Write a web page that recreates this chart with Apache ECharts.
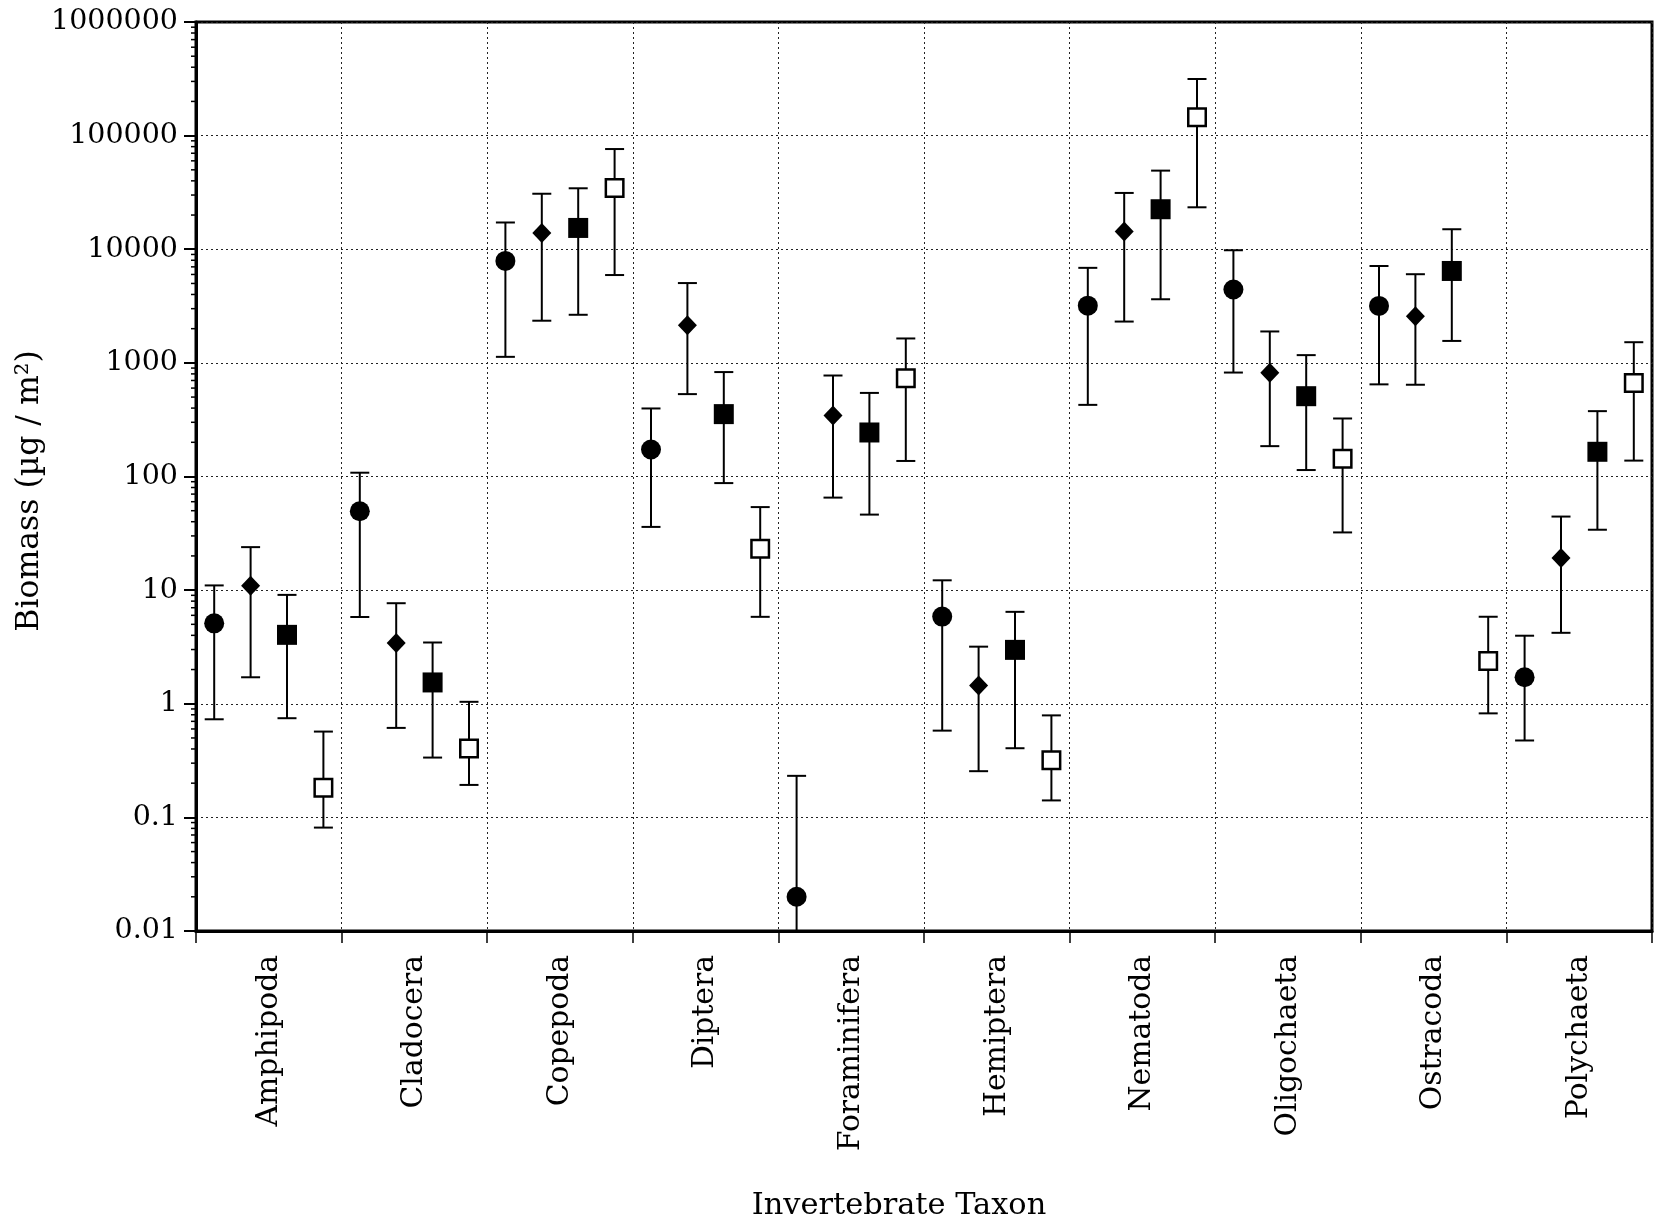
<!DOCTYPE html>
<html>
<head>
<meta charset="utf-8">
<script src="https://cdn.jsdelivr.net/npm/echarts@6/dist/echarts.min.js"></script>
<style>
html, body { margin: 0; padding: 0; background: #fff; }
#chart { width: 1659px; height: 1228px; }
</style>
</head>
<body>
<div id="chart"></div>
<script>
// ---------------- DATA ----------------
const taxa = ['Amphipoda', 'Cladocera', 'Copepoda', 'Diptera', 'Foraminifera',
              'Hemiptera', 'Nematoda', 'Oligochaeta', 'Ostracoda', 'Polychaeta'];

// series 1: filled circle
const circleMean = [5.1, 49.5, 7900, 173, 0.020, 5.85, 3190, 4420, 3170, 1.71];
const circleLow  = [0.73, 5.8, 1130, 36, 0.001, 0.58, 427, 822, 647, 0.475];
const circleHigh = [11, 108, 17200, 397, 0.232, 12.2, 6860, 9800, 7120, 3.97];

// series 2: filled diamond
const diamondMean = [10.9, 3.43, 13900, 2140, 345, 1.45, 14300, 817, 2570, 19.2];
const diamondLow  = [1.71, 0.613, 2350, 531, 65.2, 0.255, 2310, 185, 642, 4.21];
const diamondHigh = [23.9, 7.67, 30800, 5040, 774, 3.18, 31300, 1890, 6030, 44.4];

// series 3: filled square
const squareMean = [4.04, 1.54, 15400, 354, 244, 2.98, 22500, 509, 6440, 165];
const squareLow  = [0.746, 0.336, 2650, 87.5, 46.2, 0.406, 3630, 114, 1560, 34.0];
const squareHigh = [9.08, 3.46, 34400, 830, 544, 6.44, 49200, 1170, 15000, 376];

// series 4: open square
const openMean = [0.182, 0.403, 34600, 23.1, 731, 0.319, 145000, 143, 2.38, 666];
const openLow  = [0.0813, 0.193, 5930, 5.82, 137, 0.141, 23400, 32.2, 0.823, 138];
const openHigh = [0.569, 1.04, 76200, 53.8, 1640, 0.79, 315000, 324, 5.83, 1520];

// axis range
const yMin = 0.01;
const yMax = 1000000;
const xTitle = 'Invertebrate Taxon';
const yTitle = 'Biomass (\u00b5g / m\u00b2)';

// ---------------- RENDER ----------------
const FONT = 'DejaVu Serif';
const chart = echarts.init(document.getElementById('chart'));

function rows(mean, low, high) {
  return taxa.map((t, i) => [i, mean[i], low[i], high[i]]);
}

function errRender(slot, shape) {
  return function (params, api) {
    const cs = params.coordSys;
    const ci = api.value(0);
    const band = cs.width / taxa.length;
    const p = api.coord([ci, api.value(1)]);
    const x = p[0] + (slot - 1.5) * band / 4;
    const y = p[1];
    const bottom = cs.y + cs.height;
    let yLo = api.coord([ci, api.value(2)])[1];
    const yHi = api.coord([ci, api.value(3)])[1];
    let loClipped = false;
    if (!isFinite(yLo) || yLo > bottom) { yLo = bottom; loClipped = true; }
    const ls = { stroke: '#000', lineWidth: 2 };
    const cap = 9.5;
    const children = [
      { type: 'line', shape: { x1: x, y1: yHi, x2: x, y2: yLo }, style: ls },
      { type: 'line', shape: { x1: x - cap, y1: yHi, x2: x + cap, y2: yHi }, style: ls }
    ];
    if (!loClipped) {
      children.push({ type: 'line', shape: { x1: x - cap, y1: yLo, x2: x + cap, y2: yLo }, style: ls });
    }
    if (shape === 'circle') {
      children.push({ type: 'circle', shape: { cx: x, cy: y, r: 10 }, style: { fill: '#000' } });
    } else if (shape === 'diamond') {
      children.push({ type: 'polygon', shape: { points: [[x, y - 10], [x + 9.5, y], [x, y + 10], [x - 9.5, y]] }, style: { fill: '#000' } });
    } else if (shape === 'square') {
      children.push({ type: 'rect', shape: { x: x - 10, y: y - 10, width: 20, height: 20 }, style: { fill: '#000' } });
    } else {
      children.push({ type: 'rect', shape: { x: x - 8.75, y: y - 8.75, width: 17.5, height: 17.5 }, style: { fill: '#fff', stroke: '#000', lineWidth: 2.5 } });
    }
    return { type: 'group', children: children };
  };
}

// log minor tick marks (2..9 per decade) drawn on the outside of the y axis
const minorTickValues = [];
for (let k = Math.round(Math.log10(yMin)); k < Math.round(Math.log10(yMax)); k++) {
  for (let m = 2; m <= 9; m++) minorTickValues.push([0, m * Math.pow(10, k)]);
}

function minorTickRender(params, api) {
  const cs = params.coordSys;
  const y = api.coord([0, api.value(1)])[1];
  return {
    type: 'line',
    shape: { x1: cs.x - 5, y1: y, x2: cs.x, y2: y },
    style: { stroke: '#000', lineWidth: 1.5 }
  };
}

const dotted = { color: '#222', width: 1, type: [2, 3] };

const option = {
  backgroundColor: '#fff',
  animation: false,
  grid: {
    left: 196, right: 7, top: 22, bottom: 297,
    show: true, borderColor: '#000', borderWidth: 3, backgroundColor: 'transparent'
  },
  xAxis: {
    type: 'category',
    data: taxa,
    boundaryGap: true,
    axisLine: { show: true, lineStyle: { color: '#000', width: 3 } },
    axisTick: { show: true, interval: 0, length: 12, lineStyle: { color: '#000', width: 1.5 } },
    axisLabel: { interval: 0, rotate: 90, margin: 24, fontFamily: FONT, fontSize: 29.8, color: '#000' },
    splitLine: { show: true, interval: 0, lineStyle: dotted }
  },
  yAxis: {
    type: 'log',
    logBase: 10,
    min: yMin,
    max: yMax,
    axisLine: { show: true, lineStyle: { color: '#000', width: 3 } },
    axisTick: { show: true, length: 12, lineStyle: { color: '#000', width: 2 } },
    axisLabel: {
      margin: 18, fontFamily: FONT, fontSize: 28.5, color: '#000',
      formatter: function (v) {
        const r = Math.round(Math.log10(v));
        return r < 0 ? Math.pow(10, r).toFixed(-r) : String(Math.pow(10, r));
      }
    },
    splitLine: { show: true, lineStyle: dotted },
    minorTick: { show: false }
  },
  graphic: [
    {
      type: 'text', x: 899, y: 1206,
      style: { text: xTitle, fontFamily: FONT, fontSize: 30.4, fill: '#000', align: 'center', verticalAlign: 'middle' }
    },
    {
      type: 'text', x: 30, y: 491, rotation: Math.PI / 2,
      style: { text: yTitle, fontFamily: FONT, fontSize: 31.5, fill: '#000', align: 'center', verticalAlign: 'middle' }
    }
  ],
  series: [
    { type: 'custom', name: 'minor ticks', data: minorTickValues, renderItem: minorTickRender, clip: false, silent: true, z: 5 },
    { type: 'custom', name: 'Circle', data: rows(circleMean, circleLow, circleHigh), renderItem: errRender(0, 'circle'), encode: { x: 0, y: 1 }, z: 10 },
    { type: 'custom', name: 'Diamond', data: rows(diamondMean, diamondLow, diamondHigh), renderItem: errRender(1, 'diamond'), encode: { x: 0, y: 1 }, z: 10 },
    { type: 'custom', name: 'Filled square', data: rows(squareMean, squareLow, squareHigh), renderItem: errRender(2, 'square'), encode: { x: 0, y: 1 }, z: 10 },
    { type: 'custom', name: 'Open square', data: rows(openMean, openLow, openHigh), renderItem: errRender(3, 'open'), encode: { x: 0, y: 1 }, z: 10 }
  ]
};

chart.setOption(option);
</script>
</body>
</html>
